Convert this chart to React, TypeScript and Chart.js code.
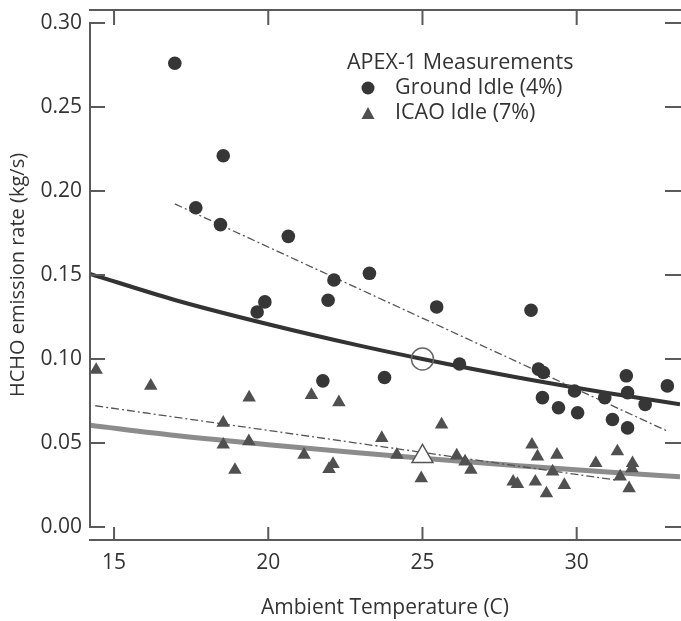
import { useEffect, useRef } from "react";
import { Chart, registerables } from "chart.js";

Chart.register(...registerables);

// Ground Idle (4%) measurements
const groundTemp = [16.97, 18.54, 17.65, 18.45, 20.65, 22.13, 23.28, 19.89, 19.64, 21.94, 21.77, 25.46, 28.52, 23.77, 26.2, 28.76, 28.92, 28.89, 29.41, 30.03, 29.93, 30.91, 31.16, 31.61, 31.65, 31.65, 32.22, 32.94];
const groundRate = [0.276, 0.221, 0.19, 0.18, 0.173, 0.147, 0.151, 0.134, 0.128, 0.135, 0.087, 0.131, 0.129, 0.089, 0.097, 0.094, 0.092, 0.077, 0.071, 0.068, 0.081, 0.077, 0.064, 0.09, 0.08, 0.059, 0.073, 0.084];

// ICAO Idle (7%) measurements
const icaoTemp = [14.42, 16.19, 19.38, 18.54, 18.54, 19.37, 18.92, 21.4, 22.29, 21.16, 22.1, 21.97, 23.68, 25.62, 24.17, 24.96, 26.11, 26.38, 26.57, 27.94, 28.08, 28.55, 28.73, 29.36, 29.22, 28.66, 29.02, 29.6, 30.62, 31.32, 31.41, 31.7, 31.81, 31.79];
const icaoRate = [0.0935, 0.084, 0.077, 0.062, 0.049, 0.051, 0.034, 0.0786, 0.0742, 0.043, 0.0375, 0.0345, 0.053, 0.061, 0.043, 0.029, 0.0425, 0.039, 0.034, 0.027, 0.0256, 0.049, 0.042, 0.043, 0.033, 0.027, 0.02, 0.025, 0.038, 0.045, 0.03, 0.023, 0.038, 0.035];

// Fitted curves
const groundFitTemp = [14.22, 17, 20, 23, 25, 28, 31, 33.35];
const groundFitRate = [0.1507, 0.135, 0.1207, 0.1078, 0.1, 0.0893, 0.0798, 0.0731];
const icaoFitTemp = [14.22, 17, 20, 23, 25, 28, 31, 33.35];
const icaoFitRate = [0.0606, 0.0545, 0.049, 0.0441, 0.041, 0.0367, 0.0327, 0.03];

// Linear trend (dash-dot) lines
const groundTrendTemp = [16.97, 32.99];
const groundTrendRate = [0.1923, 0.0567];
const icaoTrendTemp = [14.39, 31.27];
const icaoTrendRate = [0.0722, 0.028];

// Reference (open) markers at 25 C
const refTemp = [25];
const groundRefRate = [0.1];
const icaoRefRate = [0.042];

const xTicks = [15, 20, 25, 30];
const yTicks = [0, 0.05, 0.1, 0.15, 0.2, 0.25, 0.3];
const xTickLabels = ["15", "20", "25", "30"];
const yTickLabels = ["0.00", "0.05", "0.10", "0.15", "0.20", "0.25", "0.30"];
const xMin = 14.22;
const xMax = 33.35;
const yMin = -0.0077;
const yMax = 0.3077;

const FONT = "'Open Sans', 'DejaVu Sans', sans-serif";
const TEXT = "#333333";
const AXIS = "#5a5a5a";

const pts = (xs: number[], ys: number[]) => xs.map((x, i) => ({ x, y: ys[i] }));

const framePlugin = {
  id: "frame",
  afterDraw(chart: any) {
    const { ctx, chartArea } = chart;
    const xs = chart.scales.x;
    const ys = chart.scales.y;
    const { left, right, top, bottom } = chartArea;
    const tl = 15;
    ctx.save();
    ctx.strokeStyle = AXIS;
    ctx.lineWidth = 2;
    ctx.lineCap = "butt";
    ctx.beginPath();
    // left axis
    ctx.moveTo(left, ys.getPixelForValue(yTicks[yTicks.length - 1]) - 1);
    ctx.lineTo(left, ys.getPixelForValue(yTicks[0]) + 1);
    // bottom and top lines
    ctx.moveTo(left - 1, bottom);
    ctx.lineTo(right + 1, bottom);
    ctx.moveTo(left - 1, top);
    ctx.lineTo(right + 1, top);
    yTicks.forEach((v) => {
      const py = ys.getPixelForValue(v);
      ctx.moveTo(left, py);
      ctx.lineTo(left + tl, py);
      ctx.moveTo(right - tl, py);
      ctx.lineTo(right + 1, py);
    });
    xTicks.forEach((v) => {
      const px = xs.getPixelForValue(v);
      ctx.moveTo(px, bottom);
      ctx.lineTo(px, bottom - tl + 2);
      ctx.moveTo(px, top);
      ctx.lineTo(px, top + tl);
    });
    ctx.stroke();

    // tick labels
    ctx.fillStyle = TEXT;
    ctx.font = `21px ${FONT}`;
    ctx.textBaseline = "middle";
    ctx.textAlign = "right";
    yTicks.forEach((v, i) => {
      ctx.fillText(yTickLabels[i], left - 8, ys.getPixelForValue(v));
    });
    ctx.textAlign = "center";
    xTicks.forEach((v, i) => {
      ctx.fillText(xTickLabels[i], xs.getPixelForValue(v), bottom + 23);
    });

    // legend
    const lx = left + 257;
    const ly = top + 53;
    ctx.fillStyle = TEXT;
    ctx.font = `21.5px ${FONT}`;
    ctx.textBaseline = "middle";
    ctx.textAlign = "left";
    ctx.fillText("APEX-1 Measurements", lx, ly);
    ctx.fillText("Ground Idle (4%)", lx + 48, ly + 25);
    ctx.fillText("ICAO Idle (7%)", lx + 48, ly + 50);
    ctx.fillStyle = "#363636";
    ctx.beginPath();
    ctx.arc(lx + 21, ly + 25, 6.5, 0, Math.PI * 2);
    ctx.fill();
    ctx.fillStyle = "#505050";
    ctx.beginPath();
    const tx = lx + 21;
    const tyc = ly + 51;
    ctx.moveTo(tx, tyc - 7);
    ctx.lineTo(tx + 6.5, tyc + 5);
    ctx.lineTo(tx - 6.5, tyc + 5);
    ctx.closePath();
    ctx.fill();
    ctx.restore();
  },
};

export default function App() {
  const ref = useRef<HTMLCanvasElement | null>(null);

  useEffect(() => {
    if (!ref.current) return;
    const chart = new Chart(ref.current, {
      type: "scatter",
      data: {
        datasets: [
          {
            label: "Ground Idle (4%)",
            data: pts(groundTemp, groundRate),
            pointStyle: "circle",
            pointRadius: 6.8,
            backgroundColor: "#363636",
            borderColor: "#363636",
            borderWidth: 0,
            order: 1,
          },
          {
            label: "ICAO Idle (7%)",
            data: pts(icaoTemp, icaoRate),
            pointStyle: "triangle",
            pointRadius: 7.8,
            backgroundColor: "#505050",
            borderColor: "#505050",
            borderWidth: 0,
            order: 1,
          },
          {
            label: "Ground ref",
            data: pts(refTemp, groundRefRate),
            pointStyle: "circle",
            pointRadius: 11,
            backgroundColor: "rgba(255,255,255,0)",
            borderColor: "#666666",
            borderWidth: 1.5,
            order: 0,
          },
          {
            label: "ICAO ref",
            data: pts(refTemp, icaoRefRate),
            pointStyle: "triangle",
            pointRadius: 12,
            backgroundColor: "#ffffff",
            borderColor: "#555555",
            borderWidth: 1.5,
            order: 0,
          },
          {
            label: "Ground fit",
            data: pts(groundFitTemp, groundFitRate),
            showLine: true,
            pointRadius: 0,
            borderColor: "#333333",
            borderWidth: 4,
            cubicInterpolationMode: "monotone",
            order: 3,
          },
          {
            label: "ICAO fit",
            data: pts(icaoFitTemp, icaoFitRate),
            showLine: true,
            pointRadius: 0,
            borderColor: "#8c8c8c",
            borderWidth: 5,
            cubicInterpolationMode: "monotone",
            order: 3,
          },
          {
            label: "Ground trend",
            data: pts(groundTrendTemp, groundTrendRate),
            showLine: true,
            pointRadius: 0,
            borderColor: "#555555",
            borderWidth: 1.3,
            borderDash: [8, 3, 2, 3],
            order: 2,
          },
          {
            label: "ICAO trend",
            data: pts(icaoTrendTemp, icaoTrendRate),
            showLine: true,
            pointRadius: 0,
            borderColor: "#555555",
            borderWidth: 1.3,
            borderDash: [8, 3, 2, 3],
            order: 2,
          },
        ],
      },
      options: {
        animation: false,
        responsive: false,
        devicePixelRatio: 1,
        layout: { autoPadding: false, padding: { top: 10, right: 1, left: 0, bottom: 0 } },
        plugins: { legend: { display: false }, tooltip: { enabled: false } },
        scales: {
          x: {
            type: "linear",
            position: "bottom",
            min: xMin,
            max: xMax,
            grid: { display: false, drawTicks: false },
            border: { display: false },
            afterBuildTicks: (s: any) => {
              s.ticks = xTicks.map((v) => ({ value: v }));
            },
            afterFit: (s: any) => {
              s.height = 81;
            },
            ticks: { display: false },
            title: {
              display: true,
              text: "Ambient Temperature (C)",
              color: TEXT,
              font: { family: FONT, size: 21 },
              padding: { top: 0, bottom: 0 },
            },
          },
          y: {
            type: "linear",
            position: "left",
            min: yMin,
            max: yMax,
            grid: { display: false, drawTicks: false },
            border: { display: false },
            afterBuildTicks: (s: any) => {
              s.ticks = yTicks.map((v) => ({ value: v }));
            },
            afterFit: (s: any) => {
              s.width = 90;
            },
            ticks: { display: false },
            title: {
              display: true,
              text: "HCHO emission rate (kg/s)",
              color: TEXT,
              font: { family: FONT, size: 20 },
              padding: { top: 6, bottom: 0 },
            },
          },
        },
      },
      plugins: [framePlugin],
    });
    return () => chart.destroy();
  }, []);

  return (
    <div style={{ position: "absolute", left: 0, top: 0, width: 681, height: 621, background: "#fff" }}>
      <canvas ref={ref} width={681} height={621} style={{ display: "block" }} />
    </div>
  );
}
